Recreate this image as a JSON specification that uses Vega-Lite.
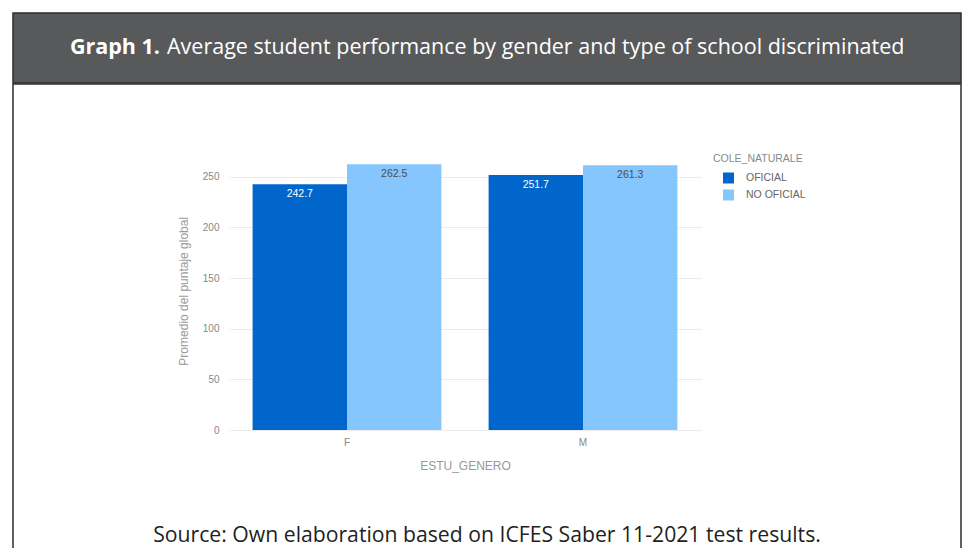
{
  "$schema": "https://vega.github.io/schema/vega-lite/v6.json",
  "background": "white",
  "padding": {"left": 12, "top": 12, "right": 0, "bottom": 0},
  "spacing": -2,
  "config": {
    "font": "Liberation Sans",
    "view": {"stroke": "#2e2e2e", "strokeWidth": 1.5}
  },
  "resolve": {"scale": {"color": "independent", "x": "independent", "y": "independent"}, "legend": {"color": "independent"}},
  "vconcat": [
    {
      "width": 948,
      "height": 70,
      "view": {"fill": "#58595b", "stroke": "#2e2e2e", "strokeWidth": 1.5},
      "layer": [
        {
          "data": {"values": [{"t": "Graph 1."}]},
          "mark": {"type": "text", "align": "right", "baseline": "middle", "dx": -327, "font": "Open Sans", "fontSize": 21.5, "fontWeight": "bold", "color": "white"},
          "encoding": {"text": {"field": "t"}}
        },
        {
          "data": {"values": [{"t": "Average student performance by gender and type of school discriminated"}]},
          "mark": {"type": "text", "align": "left", "baseline": "middle", "dx": -320, "font": "Open Sans", "fontSize": 21.5, "color": "white"},
          "encoding": {"text": {"field": "t"}}
        }
      ]
    },
    {
      "width": 948,
      "height": 472,
      "view": {"fill": "white", "stroke": "#2e2e2e", "strokeWidth": 1.5},
      "layer": [
        {
          "data": {"values": [
            {"genero": "F", "tipo": "OFICIAL", "promedio": 242.7},
            {"genero": "F", "tipo": "NO OFICIAL", "promedio": 262.5},
            {"genero": "M", "tipo": "OFICIAL", "promedio": 251.7},
            {"genero": "M", "tipo": "NO OFICIAL", "promedio": 261.3}
          ]},
          "layer": [
            {
              "mark": {"type": "bar"},
              "encoding": {
                "color": {
                  "field": "tipo", "type": "nominal",
                  "scale": {"domain": ["OFICIAL", "NO OFICIAL"], "range": ["#0066cc", "#85c6fe"]},
                  "legend": {
                    "title": "COLE_NATURALE", "orient": "none", "legendX": 700, "legendY": 70,
                    "symbolType": "square", "symbolSize": 121, "symbolOffset": 10, "symbolStrokeWidth": 0,
                    "labelOffset": 12, "rowPadding": 6, "titlePadding": 8, "padding": 0,
                    "titleFont": "Liberation Sans", "titleFontWeight": "normal", "titleFontSize": 10.5, "titleColor": "#8a8a8a",
                    "labelFont": "Liberation Sans", "labelFontSize": 10.5, "labelColor": "#666"
                  }
                }
              }
            },
            {
              "mark": {"type": "text", "baseline": "middle", "dy": 10, "fontSize": 10.5},
              "encoding": {
                "text": {"field": "promedio", "type": "quantitative", "format": ".1f"},
                "color": {"condition": {"test": "datum.tipo === 'OFICIAL'", "value": "white"}, "value": "#4d4d4d"}
              }
            }
          ],
          "encoding": {
            "x": {
              "field": "genero", "type": "nominal",
              "scale": {"domain": ["F", "M"], "range": [216, 688], "paddingInner": 0.2, "paddingOuter": 0.1},
              "axis": {
                "title": "ESTU_GENERO", "labelAngle": 0, "offset": -126, "domain": false, "ticks": false, "grid": false,
                "labelPadding": 7, "labelFontSize": 10, "labelColor": "#888",
                "titlePadding": 13, "titleFontSize": 12, "titleFontWeight": "normal", "titleColor": "#999"
              }
            },
            "xOffset": {"field": "tipo", "type": "nominal", "scale": {"domain": ["OFICIAL", "NO OFICIAL"]}},
            "y": {
              "field": "promedio", "type": "quantitative",
              "scale": {"domain": [0, 275], "range": [346, 67.5], "nice": false, "zero": true},
              "axis": {
                "title": "Promedio del puntaje global", "values": [0, 50, 100, 150, 200, 250], "offset": -216,
                "domain": false, "ticks": false, "grid": true, "gridColor": "#ebebeb", "gridWidth": 1,
                "labelPadding": 10, "labelFontSize": 10, "labelColor": "#888",
                "titlePadding": 12, "titleFontSize": 12, "titleFontWeight": "normal", "titleColor": "#999"
              }
            }
          }
        },
        {
          "data": {"values": [{"t": "Source: Own elaboration based on ICFES Saber 11-2021 test results."}]},
          "mark": {"type": "text", "y": "height", "dy": -20, "baseline": "middle", "align": "center", "font": "Open Sans", "fontSize": 21.2, "color": "#231f20"},
          "encoding": {"text": {"field": "t"}}
        }
      ],
      "resolve": {"scale": {"x": "independent", "y": "independent"}}
    }
  ]
}
